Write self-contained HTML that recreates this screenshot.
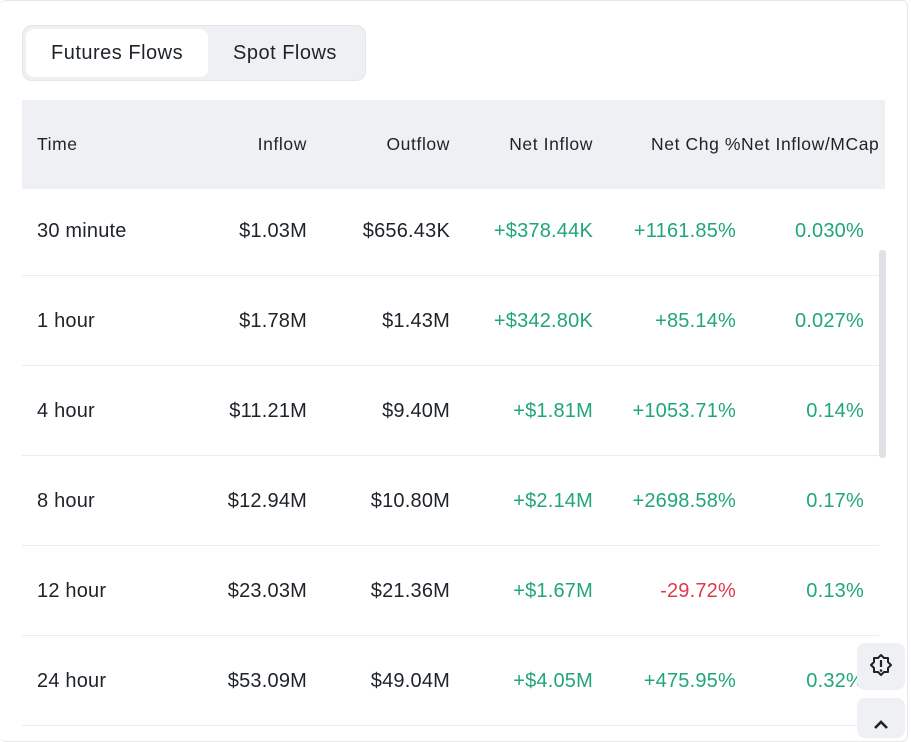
<!DOCTYPE html>
<html><head><style>
body{margin:0;width:911px;height:734px;overflow:hidden;background:#fff;font-family:"Liberation Sans",sans-serif;position:relative}
.frame{position:absolute;left:0;top:0;width:907px;height:740px;border:1px solid #e6e8ea;border-radius:6px;border-left:none}
.tabs{position:absolute;left:22px;top:25px;width:344px;height:56px;background:#eef0f3;border-radius:10px;border:1px solid #e4e6ea;box-sizing:border-box}
.tab1{position:absolute;left:3px;top:3px;width:182px;height:48px;background:#fff;border-radius:8px}
.t{position:absolute;font-size:20px;letter-spacing:0.5px;color:#1e2329;white-space:nowrap}
.hdr{position:absolute;left:22px;top:100px;width:863px;height:89px;background:#eef0f3}
.h{position:absolute;top:134px;font-size:17.5px;letter-spacing:0.6px;color:#1e2329;white-space:nowrap}
.c{position:absolute;font-size:20px;letter-spacing:0.2px;color:#1e2329;white-space:nowrap}
.g{color:#20a67a}.r{color:#e0394f}
.line{position:absolute;left:22px;width:857px;height:1px;background:#eaecef}
.sb{position:absolute;left:879px;top:250px;width:7px;height:208px;background:#dfe1e5;border-radius:3px}
.btn{position:absolute;left:857px;width:48px;background:#eef0f3;border-radius:8px}
</style></head><body>
<div class="frame"></div>
<div class="tabs"><div class="tab1"></div></div>
<div class="t" style="left:51px;top:42px">Futures Flows</div>
<div class="t" style="left:233px;top:42px">Spot Flows</div>
<div class="hdr"></div>
<div class="h" style="left:37px">Time</div>
<div class="h" style="right:604px">Inflow</div>
<div class="h" style="right:461px">Outflow</div>
<div class="h" style="right:318px">Net Inflow</div>
<div class="h" style="left:651px">Net Chg %Net Inflow/MCap</div>
<div id="rows"></div>
<div class="sb"></div>
<div class="btn" style="top:643px;height:47px"><svg width="48" height="47" viewBox="0 0 48 47"><path d="M24 12 l3 3 4 0 0 4 3 3 -3 3 0 4 -4 0 -3 3 -3 -3 -4 0 0 -4 -3 -3 3 -3 0 -4 4 0z" fill="none" stroke="#1e2329" stroke-width="2" stroke-linejoin="round"/><line x1="24" y1="17" x2="24" y2="24" stroke="#1e2329" stroke-width="2.2"/><circle cx="24" cy="27.5" r="1.3" fill="#1e2329"/></svg></div>
<div class="btn" style="top:698px;height:40px"><svg width="48" height="36" viewBox="0 0 48 36"><path d="M18 30 l6-6 6 6" fill="none" stroke="#1e2329" stroke-width="2.6"/></svg></div>
<script>
const d=[["30 minute","$1.03M","$656.43K","+$378.44K","+1161.85%","0.030%"],
["1 hour","$1.78M","$1.43M","+$342.80K","+85.14%","0.027%"],
["4 hour","$11.21M","$9.40M","+$1.81M","+1053.71%","0.14%"],
["8 hour","$12.94M","$10.80M","+$2.14M","+2698.58%","0.17%"],
["12 hour","$23.03M","$21.36M","+$1.67M","-29.72%","0.13%"],
["24 hour","$53.09M","$49.04M","+$4.05M","+475.95%","0.32%"]];
let h="";const R=[604,461,318,175,47];
d.forEach((r,i)=>{const y=220+i*90;
h+=`<div class="c" style="left:37px;top:${y}px">${r[0]}</div>`;
for(let j=1;j<6;j++){let cl=j>=3?(r[j][0]=="-"?"r":"g"):"";h+=`<div class="c ${cl}" style="right:${R[j-1]}px;top:${y}px">${r[j]}</div>`;}
h+=`<div class="line" style="top:${275+i*90}px"></div>`;});
document.getElementById("rows").innerHTML=h;
</script>
</body></html>
